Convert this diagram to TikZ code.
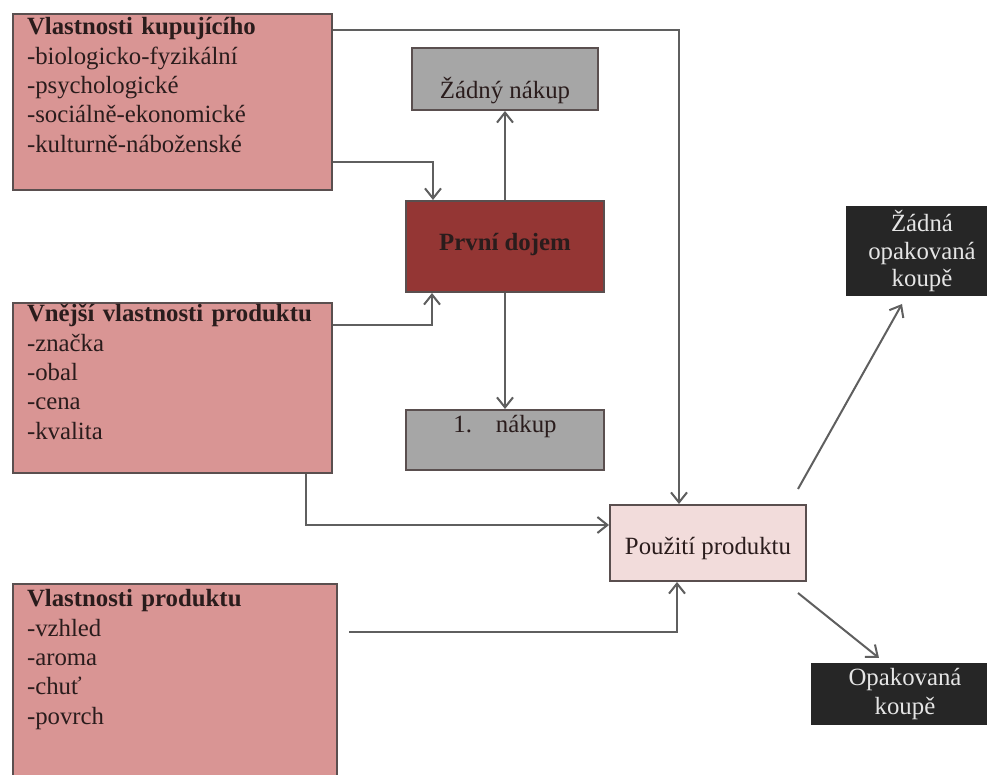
\documentclass[tikz,border=0pt]{standalone}
\usepackage{fontspec}
\setmainfont{Liberation Serif}
\usepackage{xcolor}
\usetikzlibrary{arrows.meta}

\definecolor{pinkfill}{HTML}{D99594}
\definecolor{dojemfill}{HTML}{943634}
\definecolor{grayfill}{HTML}{A6A6A6}
\definecolor{usefill}{HTML}{F2DCDB}
\definecolor{darkfill}{HTML}{262626}
\definecolor{edgegray}{HTML}{5A4F4F}
\definecolor{wiregray}{HTML}{5F5F5F}
\definecolor{inkdark}{HTML}{2A1C1C}

\begin{document}
\begin{tikzpicture}[x=0.5pt,y=-0.5pt,
    font=\fontsize{12.4}{14.65}\selectfont,
    box/.style={draw=edgegray,line width=1pt,inner sep=0pt,anchor=north,text=inkdark},
    pinkbox/.style={box,fill=pinkfill,anchor=north west,align=left,inner xsep=7pt,
      text height=10.5pt,text width=145.5pt},
    graybox/.style={box,fill=grayfill,minimum width=99pt},
    darkbox/.style={box,draw=darkfill,fill=darkfill,text=white!90!black,align=center},
    wire/.style={draw=wiregray,line width=1pt,-{Straight Barb[length=5pt,width=8pt]}}]
          %page
          \fill[white] (0,0) rectangle (987,775);
          \useasboundingbox (0,0) rectangle (987,775);
          \clip (0,0) rectangle (987,775);

          %left column
          \node[pinkbox,text depth=77.5pt] (kup) at (12,13) {\textbf{Vlastnosti kupujícího}\\-biologicko-fyzikální\\-psychologické\\-sociálně-ekonomické\\-kulturně-náboženské};
          \node[pinkbox,text height=9.5pt,text depth=75.5pt] (vnejsi) at (12,302) {\textbf{Vnější vlastnosti produktu}\\-značka\\-obal\\-cena\\-kvalita};
          \node[pinkbox,text height=11.5pt,text depth=92pt,text width=148pt] (vlast) at (12,583) {\textbf{Vlastnosti produktu}\\-vzhled\\-aroma\\-chuť\\-povrch};

          %middle column
          \node[graybox,minimum width=93pt,text height=25.5pt,text depth=5.5pt] (zadny) at (505,47) {Žádný nákup};
          \node[box,fill=dojemfill,minimum width=99pt,text height=25pt,text depth=20.5pt] (dojem) at (505,200) {\textbf{První dojem}};
          \node[graybox,text height=11.5pt,text depth=18.5pt] (nakup) at (505,409) {1.\hspace{12pt}nákup};
          \node[box,fill=usefill,minimum width=98pt,text height=25pt,text depth=13pt] (use) at (708,504) {Použití produktu};

          %right column
          \node[darkbox,text width=75pt,text height=12.5pt,text depth=31.5pt,font=\fontsize{12.4}{13.75}\selectfont] (nekoupe) at (922,206) {Žádná\\opakovaná\\koupě};
          \node[darkbox,text width=93pt,text height=11pt,text depth=19pt,font=\fontsize{12.4}{14.5}\selectfont] (koupe) at (905,663) {Opakovaná\\koupě};

          %arrows
          \draw[wire] ([yshift=-8.5pt]kup.north east) -| ([xshift=-14.5pt]use.north);
          \draw[wire] ([yshift=14.5pt]kup.south east) -| ([xshift=-36pt]dojem.north);
          \draw[wire] (dojem.north) -- (zadny.south);
          \draw[wire] ([yshift=-11.5pt]vnejsi.north east) -| ([xshift=-36.5pt]dojem.south);
          \draw[wire] (dojem.south) -- (nakup.north);
          \draw[wire] ([xshift=-13.5pt]vnejsi.south east) |- ([yshift=9pt]use.west);
          \draw[wire] ([shift={(5.5pt,-24.5pt)}]vlast.north east) -| ([xshift=-15.5pt]use.south);
          \draw[wire] ([shift={(-4.5pt,7.5pt)}]use.north east) -- ([shift={(-10pt,-4pt)}]nekoupe.south);
          \draw[wire] ([shift={(-4.5pt,-5.5pt)}]use.south east) -- ([shift={(-13pt,2.5pt)}]koupe.north);
\end{tikzpicture}
\end{document}
